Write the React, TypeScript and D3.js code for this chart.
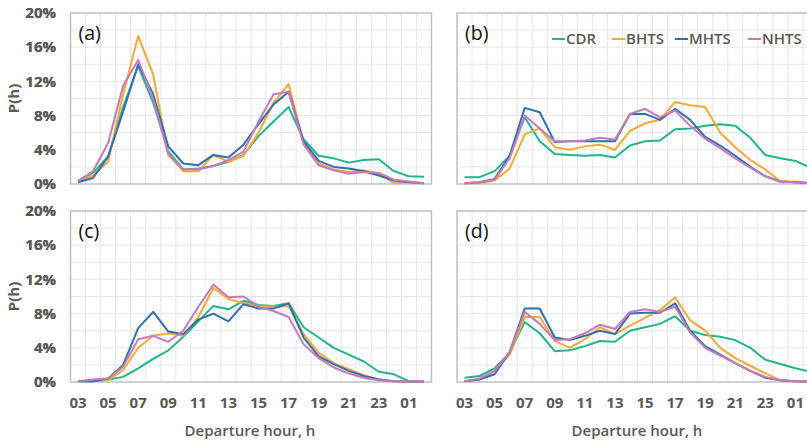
import * as d3 from 'd3';
import { useEffect, useRef } from 'react';

const hours = ['03', '04', '05', '06', '07', '08', '09', '10', '11', '12', '13', '14', '15', '16', '17', '18', '19', '20', '21', '22', '23', '00', '01', '02'];
const yTicks = [0, 4, 8, 12, 16, 20];
const seriesNames = ['CDR', 'BHTS', 'MHTS', 'NHTS'];
const colors = ['#22b48c', '#f7a935', '#2f6fb3', '#c87ab8'];

// panel (a)
const cdrA = [0.4, 1.3, 3.2, 9.0, 13.8, 9.5, 3.8, 1.7, 1.8, 2.1, 2.6, 3.4, 5.6, 7.3, 9.0, 5.2, 3.3, 3.0, 2.5, 2.8, 2.9, 1.5, 0.9, 0.85];
const bhtsA = [0.3, 1.0, 2.6, 10.5, 17.3, 12.8, 3.4, 1.5, 1.5, 3.4, 2.6, 3.3, 6.0, 9.5, 11.7, 4.8, 2.4, 1.7, 1.4, 1.6, 1.2, 0.1, 0.2, 0.1];
const mhtsA = [0.2, 0.7, 3.2, 8.5, 14.0, 10.5, 4.4, 2.4, 2.2, 3.4, 3.1, 4.6, 7.0, 9.3, 10.8, 5.0, 2.7, 2.0, 1.8, 1.5, 1.0, 0.4, 0.2, 0.1];
const nhtsA = [0.3, 1.5, 4.8, 11.5, 14.5, 10.0, 3.5, 1.7, 1.7, 2.1, 2.8, 3.8, 7.3, 10.5, 10.8, 4.6, 2.2, 1.6, 1.2, 1.4, 1.3, 0.5, 0.3, 0.1];

// panel (b)
const cdrB = [0.8, 0.8, 1.5, 3.3, 7.8, 5.0, 3.5, 3.4, 3.3, 3.4, 3.1, 4.5, 5.0, 5.1, 6.4, 6.5, 6.8, 7.0, 6.8, 5.4, 3.4, 3.0, 2.7, 1.9];
const bhtsB = [0.1, 0.1, 0.4, 1.8, 5.8, 6.5, 4.3, 4.0, 4.4, 4.6, 4.0, 6.2, 7.1, 7.5, 9.6, 9.2, 9.0, 6.0, 4.3, 2.8, 1.7, 0.3, 0.3, 0.1];
const mhtsB = [0.1, 0.2, 0.6, 3.3, 8.9, 8.4, 4.9, 5.0, 5.0, 5.0, 5.0, 8.2, 8.2, 7.5, 8.8, 7.5, 5.5, 4.5, 3.3, 2.0, 0.9, 0.3, 0.2, 0.1];
const nhtsB = [0.1, 0.2, 0.5, 3.0, 8.0, 6.5, 5.0, 5.0, 5.1, 5.4, 5.2, 8.2, 8.8, 7.8, 8.6, 6.8, 5.3, 4.2, 3.0, 1.9, 0.9, 0.3, 0.2, 0.1];

// panel (c)
const cdrC = [0.1, 0.1, 0.3, 0.6, 1.6, 2.7, 3.7, 5.3, 7.1, 8.9, 8.5, 9.5, 9.0, 8.9, 9.2, 6.4, 5.2, 4.0, 3.2, 2.4, 1.2, 0.9, 0.1, 0.05];
const bhtsC = [0.1, 0.2, 0.2, 1.4, 4.0, 5.4, 5.7, 5.4, 7.6, 11.0, 9.7, 9.2, 8.9, 8.8, 8.9, 5.6, 3.4, 2.2, 1.5, 0.8, 0.3, 0.1, 0.05, 0.05];
const mhtsC = [0.1, 0.1, 0.4, 2.0, 6.3, 8.2, 5.9, 5.6, 7.3, 8.0, 7.1, 9.1, 8.6, 8.6, 9.2, 5.2, 3.0, 2.1, 1.3, 0.7, 0.3, 0.1, 0.05, 0.05];
const nhtsC = [0.1, 0.3, 0.4, 1.8, 5.0, 5.4, 4.7, 6.0, 8.8, 11.4, 9.9, 10.0, 8.8, 8.3, 7.6, 4.4, 2.8, 1.7, 1.0, 0.5, 0.2, 0.1, 0.05, 0.05];

// panel (d)
const cdrD = [0.5, 0.7, 1.6, 3.4, 7.0, 5.7, 3.6, 3.7, 4.2, 4.8, 4.7, 6.0, 6.4, 6.8, 7.7, 6.0, 5.5, 5.3, 4.9, 4.0, 2.6, 2.1, 1.6, 1.2];
const bhtsD = [0.1, 0.3, 1.3, 3.2, 7.6, 7.6, 4.8, 4.0, 5.0, 6.4, 5.6, 6.6, 7.5, 8.4, 9.9, 7.2, 6.0, 4.0, 2.8, 1.9, 1.0, 0.2, 0.1, 0.05];
const mhtsD = [0.1, 0.3, 0.9, 3.5, 8.6, 8.6, 5.2, 4.9, 5.4, 6.0, 5.6, 8.0, 8.1, 8.1, 9.2, 6.0, 4.2, 3.2, 2.2, 1.3, 0.5, 0.2, 0.1, 0.05];
const nhtsD = [0.1, 0.4, 1.3, 3.5, 8.2, 6.8, 4.9, 5.0, 5.7, 6.7, 6.2, 8.2, 8.5, 8.2, 8.8, 5.8, 4.0, 3.1, 2.2, 1.3, 0.6, 0.2, 0.1, 0.05];

const panelLabels = ['(a)', '(b)', '(c)', '(d)'];
const panelSeries = [
    [cdrA, bhtsA, mhtsA, nhtsA],
    [cdrB, bhtsB, mhtsB, nhtsB],
    [cdrC, bhtsC, mhtsC, nhtsC],
    [cdrD, bhtsD, mhtsD, nhtsD],
];

const W = 807, H = 440;
const colX = [70.5, 457];
const rowY = [13, 211];
const plotW = 361, plotH = 171;
const txt = '#595959';
const font = '"Open Sans", sans-serif';

const App = () => {
    const svgRef = useRef<SVGSVGElement>(null);
    useEffect(() => {
        const svg = d3.select(svgRef.current);
        svg.selectAll('*').remove();

        panelSeries.forEach((series, p) => {
            const left = colX[p % 2];
            const top = rowY[Math.floor(p / 2)];
            const x = d3.scaleBand().domain(hours).range([left, left + plotW]);
            const xc = (h: string) => (x(h) as number) + x.bandwidth() / 2;
            const y = d3.scaleLinear().domain([0, 20]).range([top + plotH, top]);
            const g = svg.append('g');

            // grid
            g.selectAll('line.hg')
                .data(d3.range(2, 20, 2))
                .enter()
                .append('line')
                .attr('x1', left).attr('x2', left + plotW)
                .attr('y1', d => y(d)).attr('y2', d => y(d))
                .attr('stroke', '#e6e6e6').attr('stroke-width', 1);
            g.selectAll('line.vg')
                .data(hours.slice(1))
                .enter()
                .append('line')
                .attr('x1', d => x(d) as number).attr('x2', d => x(d) as number)
                .attr('y1', top).attr('y2', top + plotH)
                .attr('stroke', '#e6e6e6').attr('stroke-width', 1);
            g.append('rect')
                .attr('x', left).attr('y', top)
                .attr('width', plotW).attr('height', plotH)
                .attr('fill', 'none').attr('stroke', '#c0c0c0').attr('stroke-width', 1.5);

            // y axis labels
            g.selectAll('text.yt')
                .data(yTicks)
                .enter()
                .append('text')
                .attr('x', 56)
                .attr('y', d => y(d))
                .attr('dy', '0.35em')
                .attr('text-anchor', 'end')
                .attr('font-family', font).attr('font-weight', 700)
                .attr('font-size', 15).attr('fill', txt)
                .text(d => d + '%');

            if (p % 2 === 0) {
                g.append('text')
                    .attr('transform', `translate(19,${top + plotH / 2}) rotate(-90)`)
                    .attr('text-anchor', 'middle')
                    .attr('font-family', font).attr('font-weight', 700)
                    .attr('font-size', 15).attr('fill', txt)
                    .text('P(h)');
            }

            // x labels on bottom row
            if (p >= 2) {
                g.selectAll('text.xt')
                    .data(hours.filter((d, i) => i % 2 === 0))
                    .enter()
                    .append('text')
                    .attr('x', d => xc(d))
                    .attr('y', top + plotH + 26)
                    .attr('text-anchor', 'middle')
                    .attr('font-family', font).attr('font-weight', 700)
                    .attr('font-size', 15).attr('fill', txt)
                    .text(d => d);
                g.append('text')
                    .attr('x', p === 2 ? 250 : 637)
                    .attr('y', top + plotH + 54)
                    .attr('text-anchor', 'middle')
                    .attr('font-family', font).attr('font-weight', 600)
                    .attr('font-size', 15).attr('fill', txt)
                    .text('Departure hour, h');
            }

            // lines
            const line = d3.line<number>()
                .x((d, i) => xc(hours[i]))
                .y(d => y(d));
            g.selectAll('path.s')
                .data(series)
                .enter()
                .append('path')
                .attr('d', d => line(d))
                .attr('fill', 'none')
                .attr('stroke', (d, i) => colors[i])
                .attr('stroke-width', 2)
                .attr('stroke-linejoin', 'round');

            g.append('text')
                .attr('x', left + 8)
                .attr('y', top + 27)
                .attr('font-family', font).attr('font-size', 19.5).attr('fill', '#111')
                .text(panelLabels[p]);
        });

        // legend in panel (b)
        const lx = [552, 612, 675, 748];
        const leg = svg.append('g');
        seriesNames.forEach((name, i) => {
            leg.append('line')
                .attr('x1', lx[i]).attr('x2', lx[i] + 13)
                .attr('y1', 39).attr('y2', 39)
                .attr('stroke', colors[i]).attr('stroke-width', 2);
            leg.append('text')
                .attr('x', lx[i] + 14).attr('y', 39).attr('dy', '0.35em')
                .attr('font-family', font).attr('font-weight', 600)
                .attr('font-size', 15).attr('fill', txt)
                .text(name);
        });

        return () => {
            svg.selectAll('*').remove();
        };
    }, []);

    return (
        <svg ref={svgRef} width={W} height={H} style={{ position: 'absolute', left: 0, top: 0, background: '#fff' }}></svg>
    );
};

export default App;
